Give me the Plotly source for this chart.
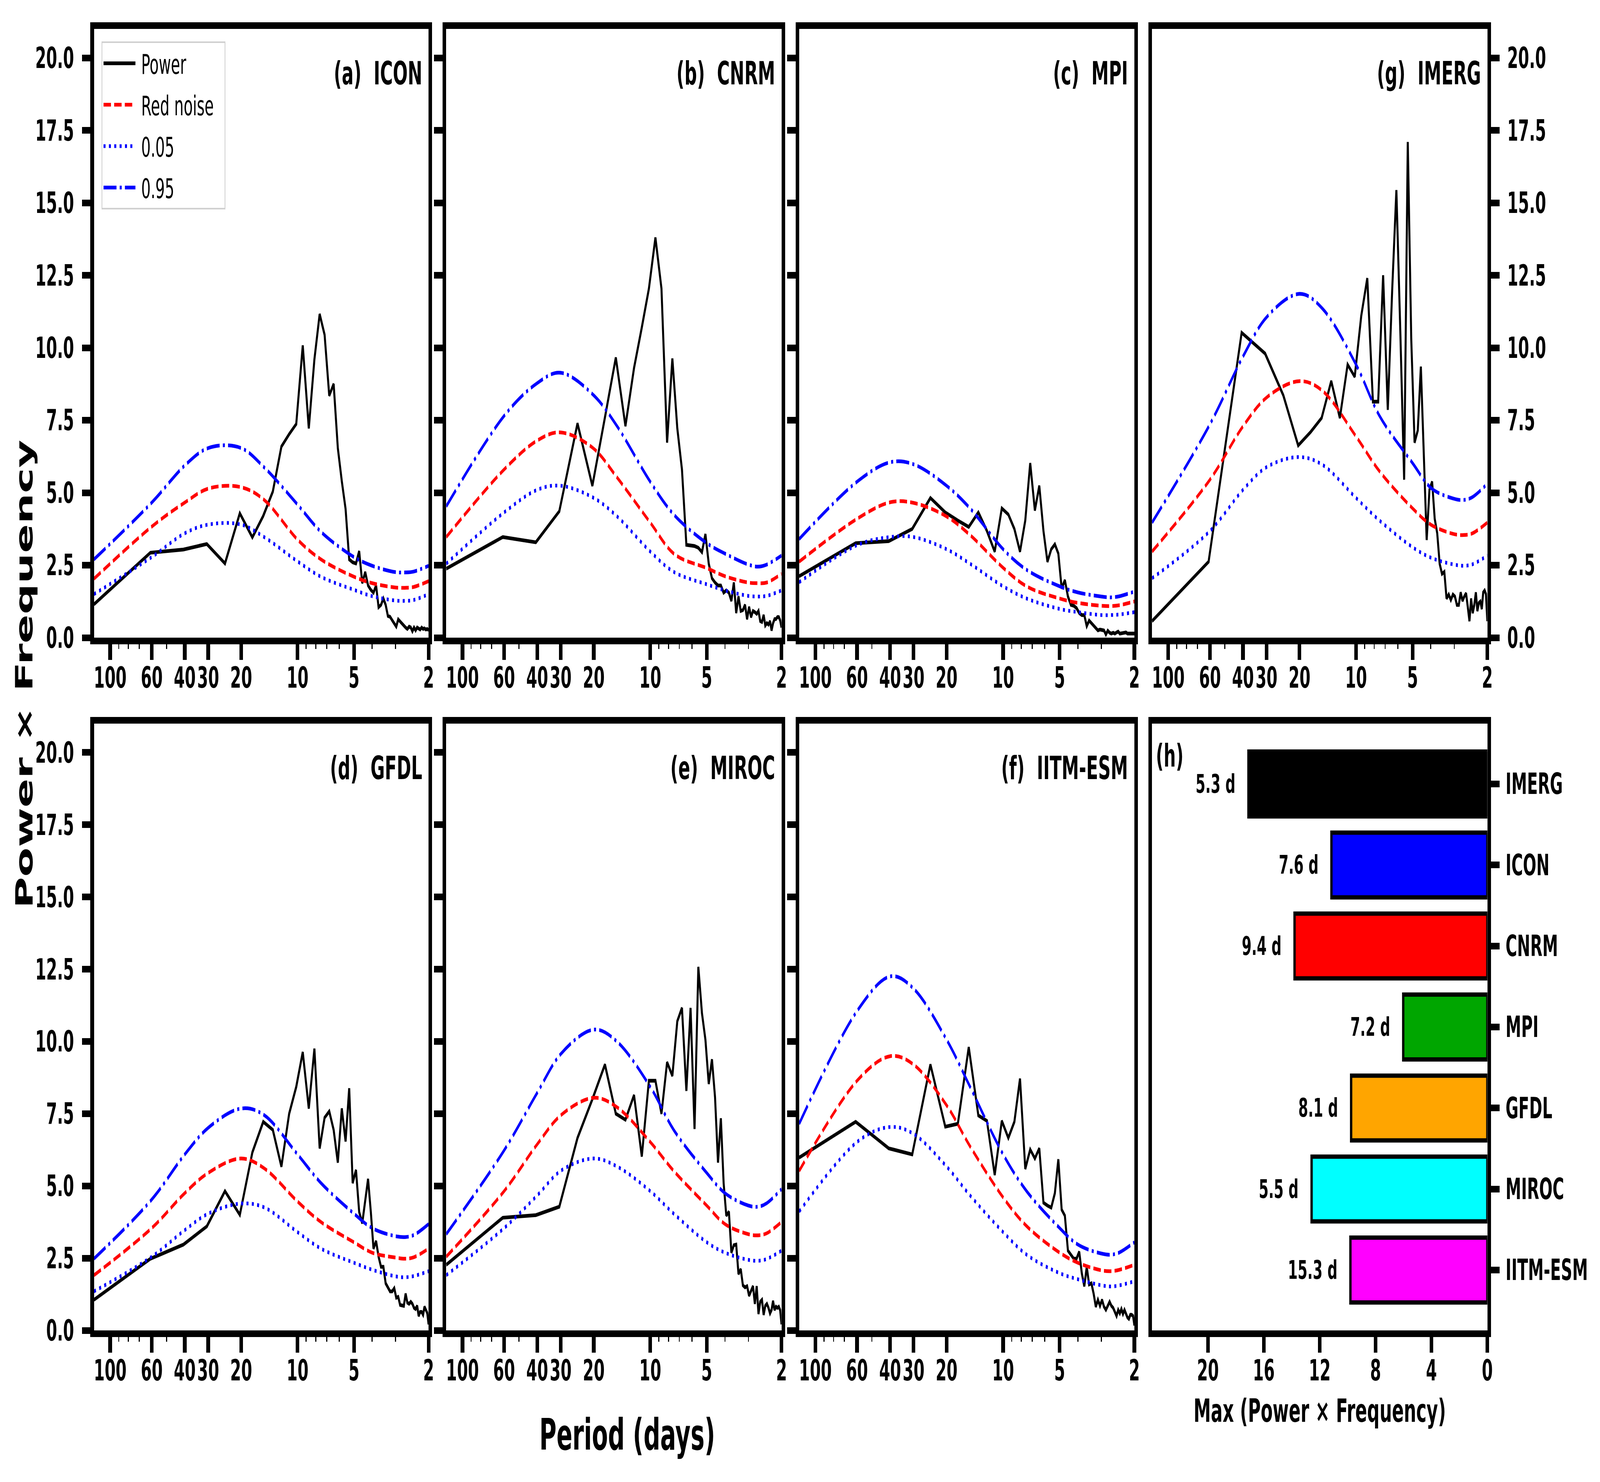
import math
import plotly.graph_objects as go

# ---------------- data ----------------
N_DAYS = 122
wavenumbers = list(range(1, 62))
periods = [N_DAYS / k for k in wavenumbers]
noise_periods = [122, 60, 40, 30, 20, 15, 10, 7.5, 5, 4, 3, 2.67, 2.4, 2]

period_ticks = [100, 60, 40, 30, 20, 10, 5, 2]
period_tick_text = ["100", "60", "40", "30", "20", "10", "5", "2"]
period_minor_ticks = [90, 80, 70, 50, 9, 8, 7, 6, 4, 3]
power_ticks = [0, 2.5, 5, 7.5, 10, 12.5, 15, 17.5, 20]

icon_power = [1.15, 2.93, 3.04, 3.23, 2.56, 4.29, 3.46, 4.2, 5.04, 6.59,
              7.02, 7.37, 10.08, 7.22, 9.6, 11.16, 10.45, 8.35, 8.75, 6.54,
              5.4, 4.44, 2.7, 2.6, 2.56, 2.98, 1.88, 2.26, 1.8, 1.65,
              1.55, 1.8, 1.05, 1.13, 1.35, 1.13, 0.75, 0.72, 0.6, 0.5,
              0.38, 0.63, 0.55, 0.48, 0.4, 0.35, 0.3, 0.38, 0.35, 0.22,
              0.35, 0.25, 0.35, 0.33, 0.28, 0.35, 0.3, 0.32, 0.28, 0.3, 0.26]
icon_red = [2.03, 3.83, 4.66, 5.14, 5.19, 4.74, 3.38, 2.7, 2.1, 1.88, 1.73, 1.72, 1.75, 1.95]
icon_p05 = [1.5, 2.78, 3.6, 3.9, 3.9, 3.46, 2.63, 2.1, 1.65, 1.43, 1.28, 1.27, 1.3, 1.5]
icon_p95 = [2.7, 4.66, 5.94, 6.54, 6.54, 5.86, 4.59, 3.65, 2.78, 2.48, 2.26, 2.25, 2.28, 2.48]

cnrm_power = [2.38, 3.47, 3.29, 4.36, 7.39, 5.24, 7.6, 9.66, 7.3, 9.3,
              10.7, 12.04, 13.8, 12.04, 6.73, 9.63, 7.22, 5.8, 3.2, 3.19,
              3.16, 3.1, 2.95, 3.57, 2.55, 2.05, 1.9, 1.8, 1.8, 1.55,
              1.63, 1.55, 1.27, 1.9, 0.85, 1.42, 0.92, 0.95, 1.13, 0.64,
              1.06, 0.71, 0.92, 0.88, 0.82, 0.92, 0.57, 0.54, 0.78, 0.42,
              0.5, 0.45, 0.57, 0.25, 0.5, 0.64, 0.64, 0.71, 0.71, 0.6, 0.35]
cnrm_red = [3.47, 5.8, 6.8, 7.08, 6.52, 5.52, 3.97, 2.9, 2.4, 2.12, 1.9, 1.88, 1.9, 2.2]
cnrm_p05 = [2.55, 4.32, 5.1, 5.24, 4.82, 4.18, 2.97, 2.27, 1.84, 1.63, 1.44, 1.42, 1.44, 1.63]
cnrm_p95 = [4.53, 7.65, 8.78, 9.14, 8.36, 7.29, 5.38, 4.25, 3.26, 2.9, 2.52, 2.45, 2.52, 2.83]

mpi_power = [2.12, 3.26, 3.33, 3.75, 4.82, 4.32, 4.04, 3.82, 4.32, 3.68,
             2.97, 4.46, 4.25, 3.75, 2.97, 4.04, 6.02, 4.39, 5.24, 3.68,
             2.62, 3.05, 3.22, 2.9, 1.7, 1.98, 1.42, 1.13, 1.1, 1.02,
             0.85, 0.78, 0.78, 0.4, 0.59, 0.5, 0.4, 0.31, 0.25, 0.28,
             0.28, 0.25, 0.11, 0.24, 0.17, 0.14, 0.17, 0.14, 0.18, 0.21,
             0.14, 0.14, 0.16, 0.17, 0.18, 0.14, 0.14, 0.14, 0.14, 0.14, 0.14]
mpi_red = [2.62, 4.1, 4.67, 4.65, 4.18, 3.54, 2.41, 1.77, 1.35, 1.2, 1.1, 1.09, 1.12, 1.25]
mpi_p05 = [1.91, 3.19, 3.47, 3.47, 3.05, 2.55, 1.77, 1.35, 0.99, 0.88, 0.78, 0.78, 0.8, 0.88]
mpi_p95 = [3.4, 5.38, 6.05, 5.98, 5.24, 4.46, 3.05, 2.34, 1.77, 1.56, 1.42, 1.39, 1.43, 1.59]

imerg_power = [0.57, 2.62, 10.52, 9.8, 8.36, 6.63, 7.1, 7.58, 8.85, 7.58,
               9.42, 9.0, 11.1, 12.4, 8.14, 8.14, 12.5, 7.86, 12.0, 15.44,
               10.5, 5.45, 17.1, 10.3, 6.73, 7.15, 9.35, 6.4, 3.37, 5.1,
               5.38, 4.1, 3.6, 2.55, 2.2, 2.27, 1.35, 1.49, 1.3, 1.49,
               1.42, 1.13, 1.13, 1.56, 1.27, 1.42, 1.53, 1.06, 0.57, 1.35,
               0.85, 1.13, 1.56, 0.92, 1.2, 1.25, 0.99, 1.56, 1.63, 1.5, 0.57]
imerg_red = [2.97, 5.45, 7.29, 8.28, 8.85, 8.5, 6.94, 5.74, 4.46, 3.9, 3.57, 3.54, 3.6, 3.97]
imerg_p05 = [2.05, 3.68, 5.1, 5.88, 6.23, 5.95, 4.82, 4.04, 3.12, 2.76, 2.52, 2.48, 2.53, 2.83]
imerg_p95 = [3.97, 7.36, 9.7, 11.05, 11.86, 11.33, 9.42, 7.65, 6.02, 5.17, 4.79, 4.75, 4.85, 5.31]

gfdl_power = [1.06, 2.48, 2.97, 3.6, 4.82, 4.0, 6.16, 7.22, 6.94, 5.67,
              7.5, 8.43, 9.63, 7.68, 9.75, 6.3, 7.36, 7.58, 6.94, 5.81,
              7.68, 6.54, 8.38, 5.1, 5.55, 4.1, 3.71, 4.53, 5.24, 4.1,
              2.83, 3.09, 2.55, 2.2, 2.2, 1.63, 1.49, 1.35, 1.35, 1.46,
              1.13, 1.16, 0.88, 0.88, 0.85, 1.27, 0.96, 0.92, 0.99, 0.92,
              0.78, 0.74, 0.85, 0.5, 0.64, 0.64, 0.54, 0.82, 0.71, 0.6, 0.21]
gfdl_red = [1.91, 3.54, 4.75, 5.45, 5.95, 5.6, 4.46, 3.75, 3.05, 2.69, 2.52, 2.48, 2.53, 2.83]
gfdl_p05 = [1.35, 2.55, 3.47, 4.04, 4.39, 4.25, 3.4, 2.83, 2.34, 2.1, 1.87, 1.84, 1.88, 2.05]
gfdl_p95 = [2.48, 4.53, 6.09, 7.01, 7.68, 7.44, 6.09, 5.1, 4.04, 3.54, 3.26, 3.23, 3.3, 3.68]

miroc_power = [2.27, 3.9, 3.99, 4.28, 6.66, 8.0, 9.2, 7.5, 7.29, 8.14,
               6.02, 8.64, 8.64, 7.5, 9.28, 8.81, 10.7, 11.16, 8.29, 11.16,
               6.97, 12.58, 10.98, 10.06, 8.53, 9.38, 8.07, 5.81, 7.34, 5.1,
               3.97, 4.11, 2.69, 2.95, 2.97, 1.95, 2.12, 1.56, 1.49, 1.53,
               1.2, 1.39, 1.53, 0.92, 1.53, 0.57, 0.99, 1.06, 0.54, 0.85,
               0.92, 0.78, 0.59, 0.71, 1.02, 0.71, 0.82, 0.78, 0.82, 0.7, 0.21]
miroc_red = [2.55, 4.82, 6.44, 7.44, 8.05, 7.72, 6.52, 5.52, 4.32, 3.68, 3.33, 3.29, 3.36, 3.75]
miroc_p05 = [1.91, 3.54, 4.67, 5.52, 5.95, 5.67, 4.82, 4.04, 3.05, 2.69, 2.44, 2.41, 2.47, 2.76]
miroc_p95 = [3.33, 6.23, 8.22, 9.56, 10.41, 9.99, 8.43, 6.94, 5.45, 4.75, 4.32, 4.28, 4.4, 4.89]

iitm_power = [5.98, 7.22, 6.3, 6.09, 9.2, 7.05, 7.15, 9.8, 7.44, 7.25,
              5.38, 7.25, 6.66, 7.22, 8.71, 5.59, 6.26, 5.95, 6.3, 4.42,
              4.32, 4.25, 4.75, 5.92, 4.18, 3.97, 2.76, 2.62, 2.48, 2.48,
              2.72, 1.98, 1.53, 2.2, 1.59, 1.63, 1.27, 0.82, 1.06, 0.85,
              1.06, 0.82, 0.71, 0.85, 0.99, 0.85, 0.78, 0.64, 0.5, 0.71,
              0.59, 0.74, 0.57, 0.71, 0.57, 0.45, 0.4, 0.54, 0.54, 0.5, 0.17]
iitm_red = [5.52, 8.64, 9.49, 9.2, 7.79, 6.37, 4.6, 3.61, 2.69, 2.34, 2.08, 2.05, 2.1, 2.27]
iitm_p05 = [4.11, 6.52, 7.04, 6.8, 5.67, 4.67, 3.4, 2.62, 1.98, 1.77, 1.56, 1.52, 1.56, 1.7]
iitm_p95 = [7.15, 11.05, 12.25, 11.83, 10.06, 8.43, 6.09, 4.82, 3.54, 2.97, 2.66, 2.62, 2.7, 3.05]

bar_models = ["IMERG", "ICON", "CNRM", "MPI", "GFDL", "MIROC", "IITM-ESM"]
bar_max_values = [17.1, 11.16, 13.8, 6.02, 9.75, 12.58, 9.8]
bar_peak_labels = ["5.3 d", "7.6 d", "9.4 d", "7.2 d", "8.1 d", "5.5 d", "15.3 d"]
bar_colors = ["#000000", "#0000ff", "#ff0000", "#00a600", "#ffa500", "#00ffff", "#ff00ff"]
bar_xticks = [20, 16, 12, 8, 4, 0]

# ---------------- layout helpers ----------------
W, H = 7526, 3793
FONT = "DejaVu Sans"
LW = 9.5
AXLW = 17

col_x = [(442, 2016), (2099, 3676), (3759, 5336), (5419, 6996)]
row_y = [(74, 1632), (1852, 3405)]


def xdom(c):
    return [col_x[c][0] / W, col_x[c][1] / W]


def ydom(r):
    return [1 - row_y[r][1] / H, 1 - row_y[r][0] / H]


tickfont = dict(family=FONT, size=74, color="black", weight="bold")

panels = [
    ("(a)\u00a0 ICON", icon_power, icon_red, icon_p05, icon_p95, 0, 0, True, "left"),
    ("(b)\u00a0 CNRM", cnrm_power, cnrm_red, cnrm_p05, cnrm_p95, 1, 0, False, "left"),
    ("(c)\u00a0 MPI", mpi_power, mpi_red, mpi_p05, mpi_p95, 2, 0, False, "left"),
    ("(g)\u00a0 IMERG", imerg_power, imerg_red, imerg_p05, imerg_p95, 3, 0, True, "right"),
    ("(d)\u00a0 GFDL", gfdl_power, gfdl_red, gfdl_p05, gfdl_p95, 0, 1, True, "left"),
    ("(e)\u00a0 MIROC", miroc_power, miroc_red, miroc_p05, miroc_p95, 1, 1, False, "left"),
    ("(f)\u00a0 IITM-ESM", iitm_power, iitm_red, iitm_p05, iitm_p95, 2, 1, False, "left"),
]

fig = go.Figure()
layout = {}
annotations = []

for i, (label, pw, red, p05, p95, c, r, showy, yside) in enumerate(panels):
    n = i + 1
    xa = "x" if n == 1 else f"x{n}"
    ya = "y" if n == 1 else f"y{n}"
    show_leg = (n == 1)
    fig.add_trace(go.Scatter(x=periods, y=pw, mode="lines", name="\u00a0Power\u00a0\u00a0",
                             legendgroup="g1",
                             line=dict(color="black", width=LW),
                             xaxis=xa, yaxis=ya, showlegend=show_leg))
    fig.add_trace(go.Scatter(x=noise_periods, y=red, mode="lines", name="\u00a0Red noise\u00a0\u00a0",
                             legendgroup="g2",
                             line=dict(color="#ff0000", width=LW, dash="35px,15px",
                                       shape="spline", smoothing=1.0),
                             xaxis=xa, yaxis=ya, showlegend=show_leg))
    fig.add_trace(go.Scatter(x=noise_periods, y=p05, mode="lines", name="\u00a00.05\u00a0\u00a0",
                             legendgroup="g3",
                             line=dict(color="#0000ff", width=LW, dash="9.5px,15.7px",
                                       shape="spline", smoothing=1.0),
                             xaxis=xa, yaxis=ya, showlegend=show_leg))
    fig.add_trace(go.Scatter(x=noise_periods, y=p95, mode="lines", name="\u00a00.95\u00a0\u00a0",
                             legendgroup="g4",
                             line=dict(color="#0000ff", width=LW, dash="61px,15px,9.5px,15px",
                                       shape="spline", smoothing=1.0),
                             xaxis=xa, yaxis=ya, showlegend=show_leg))
    xkey = "xaxis" if n == 1 else f"xaxis{n}"
    ykey = "yaxis" if n == 1 else f"yaxis{n}"
    layout[xkey] = dict(
        domain=xdom(c), anchor=ya, type="log",
        range=[math.log10(N_DAYS), math.log10(2)],
        tickmode="array", tickvals=period_ticks, ticktext=period_tick_text,
        ticks="outside", ticklen=40, tickwidth=AXLW, tickcolor="black",
        ticklabelstandoff=-18,
        showline=True, linewidth=AXLW, linecolor="black", mirror=True,
        showgrid=False, zeroline=False, tickfont=tickfont,
        minor=dict(tickvals=period_minor_ticks, ticks="outside", ticklen=12,
                   tickwidth=5, tickcolor="black", showgrid=False),
    )
    layout[ykey] = dict(
        domain=ydom(r), anchor=xa, range=[0, 21], side=yside,
        tickmode="array", tickvals=power_ticks,
        ticktext=[f"{v:.1f}" for v in power_ticks],
        showticklabels=showy,
        ticks="outside", ticklen=40, tickwidth=AXLW, tickcolor="black",
        ticklabelstandoff=22,
        showline=True, linewidth=AXLW, linecolor="black", mirror=True,
        showgrid=False, zeroline=False, tickfont=tickfont,
    )
    annotations.append(dict(
        text=label, xref=f"{xa} domain", yref=f"{ya} domain",
        x=0.982, y=0.927, xanchor="right", yanchor="middle", showarrow=False,
        font=dict(family=FONT, size=82, color="black", weight="bold"),
    ))

# ---------------- panel h ----------------
fig.add_trace(go.Bar(
    x=bar_max_values, y=bar_models, orientation="h", width=0.8,
    marker=dict(color=bar_colors, line=dict(color="black", width=11)),
    xaxis="x8", yaxis="y8", showlegend=False,
))
layout["xaxis8"] = dict(
    domain=xdom(3), anchor="y8", range=[24.0, 0],
    tickmode="array", tickvals=bar_xticks, ticktext=[str(v) for v in bar_xticks],
    ticks="outside", ticklen=40, tickwidth=AXLW, tickcolor="black",
    ticklabelstandoff=-18,
    showline=True, linewidth=AXLW, linecolor="black", mirror=True,
    showgrid=False, zeroline=False, tickfont=tickfont,
)
layout["yaxis8"] = dict(
    domain=ydom(1), anchor="x8", type="category",
    categoryorder="array", categoryarray=bar_models,
    range=[6.745, -0.745], side="right",
    ticks="outside", ticklen=40, tickwidth=AXLW, tickcolor="black",
    ticklabelstandoff=14,
    showline=True, linewidth=AXLW, linecolor="black", mirror=True,
    showgrid=False, zeroline=False, tickfont=tickfont,
)
for m, v, lab in zip(bar_models, bar_max_values, bar_peak_labels):
    annotations.append(dict(
        text=lab, xref="x8", yref="y8", x=v + 0.9, y=m,
        xanchor="right", yanchor="middle", showarrow=False,
        font=dict(family=FONT, size=66, color="black", weight="bold"),
    ))
annotations.append(dict(
    text="(h)", xref="x8 domain", yref="y8 domain", x=0.01, y=0.947,
    xanchor="left", yanchor="middle", showarrow=False,
    font=dict(family=FONT, size=80, color="black", weight="bold"),
))

# ---------------- titles ----------------
annotations.append(dict(
    text="Power × Frequency", xref="paper", yref="paper", x=115 / W, y=0.545,
    xanchor="center", yanchor="middle", textangle=-90, showarrow=False,
    font=dict(family=FONT, size=110, color="black", weight="bold"),
))
annotations.append(dict(
    text="Period (days)", xref="paper", yref="paper", x=2950 / W, y=1 - 3672 / H,
    xanchor="center", yanchor="middle", showarrow=False,
    font=dict(family=FONT, size=110, color="black", weight="bold"),
))
annotations.append(dict(
    text="Max (Power × Frequency)", xref="paper", yref="paper", x=6207 / W, y=1 - 3610 / H,
    xanchor="center", yanchor="middle", showarrow=False,
    font=dict(family=FONT, size=82, color="black", weight="bold"),
))

fig.update_layout(
    width=W, height=H,
    margin=dict(l=0, r=0, t=0, b=0, autoexpand=False),
    paper_bgcolor="white", plot_bgcolor="white",
    annotations=annotations,
    legend=dict(x=478 / W, y=1 - 106 / H, xanchor="left", yanchor="top",
                bgcolor="white", bordercolor="#d0d0d0", borderwidth=4,
                font=dict(family=FONT, size=70, color="black"),
                itemwidth=150, tracegroupgap=12),
    bargap=0.2,
    **layout,
)

# Fit the fixed-size figure to the actual browser viewport (identity when the
# window really is 7526x3793).
fit_script = """
var gd = document.getElementById('{plot_id}');
document.documentElement.style.margin = '0';
document.body.style.margin = '0';
document.body.style.overflow = 'hidden';
function fitFigure() {
  var sx = window.innerWidth / %d, sy = window.innerHeight / %d;
  gd.style.transformOrigin = '0 0';
  if (Math.abs(sx - 1) > 1e-3 || Math.abs(sy - 1) > 1e-3) {
    gd.style.transform = 'scale(' + sx + ',' + sy + ')';
  } else {
    gd.style.transform = '';
  }
}
fitFigure();
window.addEventListener('resize', fitFigure);
""" % (W, H)
fig.write_html("out.html", post_script=fit_script,
               config={"displayModeBar": False, "staticPlot": True})
